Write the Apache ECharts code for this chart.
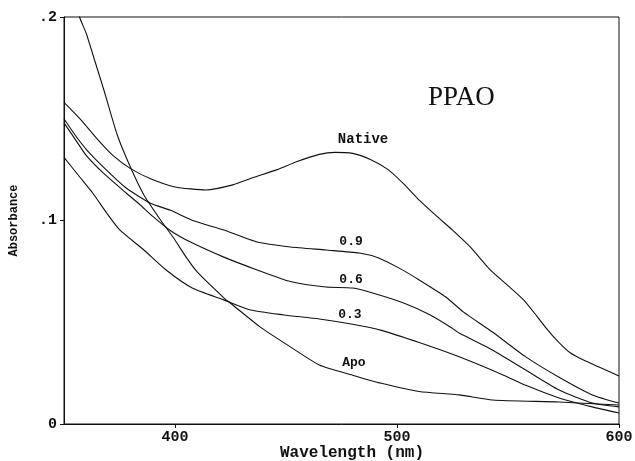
<!DOCTYPE html>
<html>
<head>
<meta charset="utf-8">
<script src="https://cdn.jsdelivr.net/npm/echarts@6/dist/echarts.min.js"></script>
<style>
  html, body { margin: 0; padding: 0; background: #fff; }
  #chart { width: 635px; height: 461px; }
</style>
</head>
<body>
<div id="chart"></div>
<script>
// [wavelength nm, absorbance]
const native = [
  [350, 0.158], [358, 0.149], [365, 0.140], [372, 0.132], [380, 0.1255],
  [389, 0.1205], [400, 0.1165], [414, 0.115], [426, 0.1175], [435, 0.121],
  [446, 0.125], [455, 0.129], [465, 0.1325], [472, 0.1335], [480, 0.133],
  [488, 0.130], [496, 0.125], [503, 0.118], [510, 0.110], [518, 0.102],
  [525, 0.0953], [533, 0.087], [542, 0.0757], [550, 0.068], [557, 0.061],
  [563, 0.053], [568, 0.046], [573, 0.040], [578, 0.035], [584, 0.0314],
  [591, 0.028], [600, 0.0236]
];
const ratio09 = [
  [350, 0.150], [355, 0.142], [360, 0.135], [368, 0.126], [378, 0.116],
  [389, 0.1085], [398, 0.105], [408, 0.100], [422, 0.0953], [437, 0.0894],
  [452, 0.087], [468, 0.0855], [483, 0.084], [492, 0.0815], [501, 0.0766],
  [510, 0.0708], [522, 0.0624], [530, 0.055], [543, 0.0452], [558, 0.033],
  [573, 0.023], [588, 0.0143], [600, 0.0103]
];
const ratio06 = [
  [350, 0.148], [355, 0.140], [360, 0.132], [368, 0.123], [378, 0.1135],
  [384, 0.108], [390, 0.102], [398, 0.095], [407, 0.0894], [422, 0.082],
  [437, 0.0757], [452, 0.070], [468, 0.0673], [480, 0.0668], [489, 0.0644],
  [503, 0.0595], [515, 0.0536], [524, 0.0477], [528, 0.0447], [543, 0.0364],
  [558, 0.0265], [573, 0.0167], [588, 0.0103], [600, 0.0084]
];
const ratio03 = [
  [350, 0.131], [357, 0.1215], [363, 0.1134], [369, 0.104], [375, 0.0955],
  [386, 0.0855], [396, 0.0757], [408, 0.0667], [422, 0.061], [434, 0.056],
  [449, 0.0536], [465, 0.0516], [480, 0.049], [493, 0.046], [510, 0.040],
  [528, 0.033], [548, 0.024], [558, 0.019], [573, 0.0128], [588, 0.0084],
  [600, 0.0054]
];
const apo = [
  [350, 0.226], [357, 0.200], [360, 0.192], [364, 0.178], [368, 0.164],
  [374, 0.142], [380, 0.126], [386, 0.1125], [393, 0.101], [399, 0.092],
  [405, 0.082], [410, 0.0747], [422, 0.062], [426, 0.0585], [438, 0.048],
  [449, 0.040], [465, 0.029], [480, 0.024], [493, 0.020], [510, 0.016],
  [528, 0.0143], [543, 0.0118], [573, 0.0108], [600, 0.0093]
];
const curveNames = ['Native', '0.9', '0.6', '0.3', 'Apo'];
const curves = [native, ratio09, ratio06, ratio03, apo];
// label anchor for each curve, in data units
const labelAt = [[484.7, 0.1396], [479.3, 0.0894], [479.3, 0.0708], [478.8, 0.0536], [480.6, 0.030]];
const xTicks = [400, 500, 600];

const chart = echarts.init(document.getElementById('chart'));

const series = curves.map((d, i) => ({
  name: curveNames[i],
  type: 'line',
  data: d,
  showSymbol: false,
  smooth: 0.2,
  clip: true,
  lineStyle: { color: '#111', width: 1.1 },
  silent: true,
  markPoint: {
    symbol: 'circle',
    symbolSize: 0,
    data: [{
      coord: labelAt[i],
      label: {
        show: true,
        position: 'inside',
        formatter: curveNames[i],
        color: '#111',
        fontFamily: 'Liberation Mono',
        fontWeight: 'bold',
        fontSize: i === 0 ? 14 : 13
      }
    }]
  }
}));

series.push({
  type: 'line',
  data: [],
  markPoint: {
    symbol: 'circle',
    symbolSize: 0,
    data: [{
      coord: [529, 0.160],
      label: {
        show: true,
        position: 'inside',
        formatter: 'PPAO',
        color: '#111',
        fontFamily: 'Liberation Serif',
        fontSize: 27
      }
    }]
  }
});

chart.setOption({
  animation: false,
  // x axis name drawn as a title so it sits right under the tick labels
  title: {
    text: 'Wavelength (nm)',
    left: 280,
    top: 445,
    padding: 0,
    textStyle: { fontFamily: 'Liberation Mono', fontWeight: 'bold', fontSize: 16, color: '#111' }
  },
  grid: {
    left: 64, right: 16, top: 17, bottom: 37,
    outerBoundsMode: 'none',
    show: true, borderColor: '#111', borderWidth: 1
  },
  xAxis: {
    type: 'value',
    min: 350,
    max: 600,
    axisLine: { lineStyle: { color: '#111', width: 1 } },
    axisTick: { show: true, length: 4, customValues: xTicks, lineStyle: { color: '#111' } },
    axisLabel: { customValues: xTicks, margin: 6, fontFamily: 'Liberation Mono', fontWeight: 'bold', fontSize: 15, color: '#111' },
    splitLine: { show: false }
  },
  yAxis: {
    type: 'value',
    min: 0,
    max: 0.2,
    interval: 0.1,
    name: 'Absorbance',
    nameLocation: 'middle',
    nameGap: 44,
    nameTextStyle: { fontFamily: 'Liberation Mono', fontWeight: 'bold', fontSize: 12, color: '#111' },
    axisLine: { show: true, lineStyle: { color: '#111', width: 1 } },
    axisTick: { show: true, length: 4, lineStyle: { color: '#111' } },
    axisLabel: {
      margin: 7,
      fontFamily: 'Liberation Mono',
      fontWeight: 'bold',
      fontSize: 15,
      color: '#111',
      formatter: v => v === 0 ? '0' : String(+v.toFixed(2)).replace(/^0/, '')
    },
    splitLine: { show: false }
  },
  series: series
});
</script>
</body>
</html>
